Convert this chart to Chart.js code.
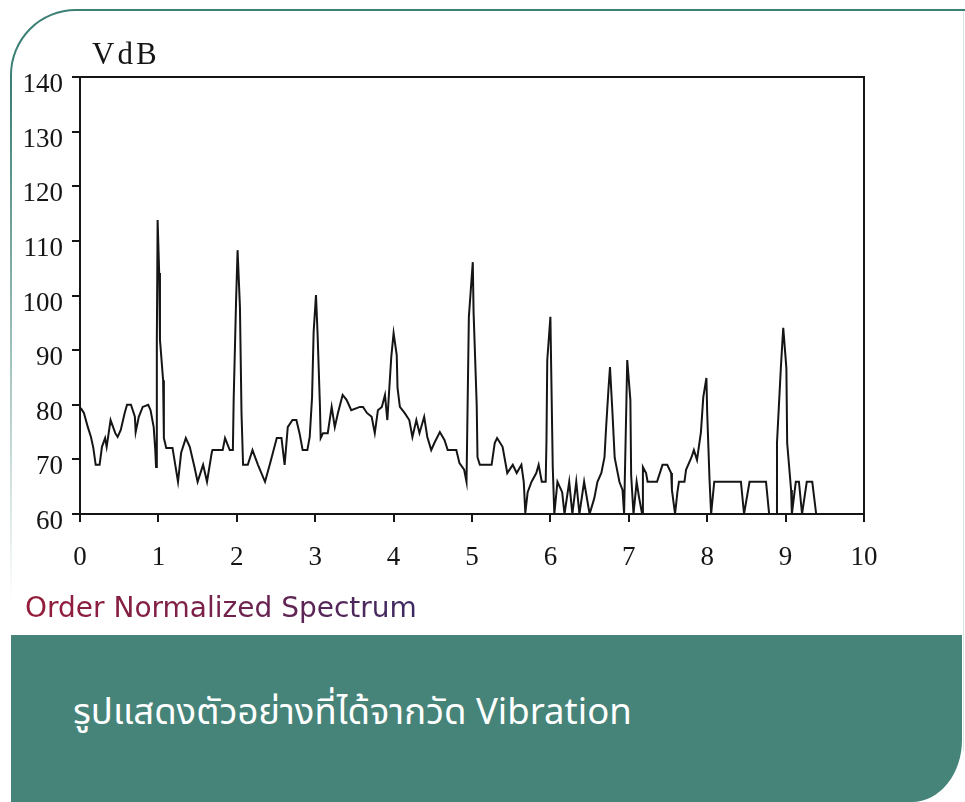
<!DOCTYPE html>
<html>
<head>
<meta charset="utf-8">
<script src="https://cdn.jsdelivr.net/npm/chart.js@4.4.1/dist/chart.umd.min.js"></script>
<style>
  html, body { margin: 0; padding: 0; background: #fff; }
  body { width: 965px; height: 802px; position: relative; overflow: hidden; }
  .frame {
    position: absolute; left: 10px; top: 9px; width: 955px; height: 793px;
    border-top-left-radius: 66px;
    background: linear-gradient(180deg, #3c7f74 0%, #3c7f74 10%, rgba(60,127,116,0) 75%);
  }
  .frame-inner {
    position: absolute; left: 12px; top: 11px; width: 953px; height: 791px;
    border-top-left-radius: 64px; background: #fff;
  }
  .edge { position: absolute; left: 963px; top: 11px; width: 1px; height: 740px; background: #dbe7e4; }
  #chart { position: absolute; left: 0; top: 0; }
  .caption {
    position: absolute; left: 25px; top: 590px;
    font-family: "DejaVu Sans", Verdana, sans-serif; font-size: 28px; line-height: 36px;
    background: linear-gradient(90deg, #951c3a 0%, #7a2049 45%, #3b2a63 100%);
    -webkit-background-clip: text; background-clip: text; color: transparent;
  }
  .band {
    position: absolute; left: 11px; top: 635px; width: 951px; height: 167px;
    background: #46847a; border-bottom-right-radius: 50px 62px;
  }
  .band span {
    position: absolute; left: 62px; top: 50px; color: #fff;
    font-family: "Noto Sans Thai", "Noto Sans", "DejaVu Sans", sans-serif; font-size: 36.5px;
  }
</style>
</head>
<body>
<div class="frame"></div>
<div class="frame-inner"></div>
<div class="edge"></div>
<canvas id="chart" width="965" height="580"></canvas>
<div class="caption">Order Normalized Spectrum</div>
<div class="band"><span>รูปแสดงตัวอย่างที่ได้จากวัด Vibration</span></div>

<script>
// spectrum: order (x) and level in VdB (y)
const orders = [
  0.01, 0.05, 0.10, 0.14, 0.17, 0.20, 0.25, 0.28, 0.32, 0.34, 0.39, 0.45, 0.48, 0.52, 0.57, 0.60,
  0.65, 0.70, 0.71, 0.75, 0.80, 0.87, 0.90, 0.94, 0.96, 0.97, 0.98, 0.99, 1.01, 1.02, 1.06, 1.07,
  1.10, 1.18, 1.25, 1.29, 1.35, 1.40, 1.46, 1.50, 1.57, 1.62, 1.68, 1.69, 1.82, 1.85, 1.91, 1.95,
  1.96, 1.99, 2.01, 2.04, 2.06, 2.08, 2.14, 2.20, 2.27, 2.36, 2.42, 2.51, 2.57, 2.61, 2.65, 2.71,
  2.76, 2.80, 2.84, 2.90, 2.93, 2.96, 2.98, 3.01, 3.03, 3.06, 3.07, 3.10, 3.16, 3.21, 3.25, 3.29,
  3.35, 3.40, 3.46, 3.57, 3.61, 3.66, 3.72, 3.76, 3.80, 3.85, 3.89, 3.92, 3.97, 4.00, 4.04, 4.05,
  4.08, 4.14, 4.20, 4.24, 4.29, 4.33, 4.39, 4.43, 4.48, 4.52, 4.59, 4.65, 4.69, 4.80, 4.84, 4.90,
  4.93, 4.94, 4.96, 5.01, 5.02, 5.06, 5.07, 5.10, 5.25, 5.29, 5.32, 5.39, 5.45, 5.52, 5.57, 5.63,
  5.66, 5.68, 5.71, 5.76, 5.82, 5.85, 5.89, 5.94, 5.95, 5.96, 6.00, 6.01, 6.03, 6.05, 6.09, 6.15,
  6.18, 6.24, 6.28, 6.33, 6.37, 6.43, 6.50, 6.56, 6.60, 6.65, 6.69, 6.71, 6.74, 6.76, 6.79, 6.82,
  6.88, 6.92, 6.94, 6.97, 6.98, 7.02, 7.03, 7.06, 7.10, 7.13, 7.17, 7.18, 7.22, 7.24, 7.36, 7.43,
  7.49, 7.54, 7.55, 7.59, 7.62, 7.64, 7.71, 7.73, 7.80, 7.83, 7.87, 7.92, 7.95, 7.99, 8.00, 8.03,
  8.05, 8.09, 8.43, 8.47, 8.54, 8.75, 8.79, 8.88, 8.89, 8.94, 8.97, 9.01, 9.02, 9.07, 9.08, 9.13,
  9.17, 9.21, 9.27, 9.34, 9.39
];
const vdb = [
  79.4, 78.5, 75.9, 74.1, 72.1, 69.0, 69.0, 72.3, 73.9, 72.3, 77.2, 74.8, 74.1, 75.4, 78.5, 80.0,
  80.0, 77.8, 75.0, 77.8, 79.6, 80.0, 79.0, 75.9, 71.7, 68.6, 91.5, 113.8, 104.1, 91.9, 84.5, 73.9,
  72.1, 72.1, 65.9, 71.2, 73.9, 72.3, 68.6, 65.9, 69.0, 65.9, 71.2, 71.7, 71.7, 73.9, 71.7, 71.7,
  80.9, 98.6, 108.3, 97.9, 78.5, 69.0, 69.0, 71.7, 69.0, 65.9, 69.0, 73.9, 73.9, 69.0, 75.9, 77.2,
  77.2, 74.8, 71.7, 71.7, 74.1, 81.4, 93.3, 100.1, 93.1, 80.0, 73.9, 74.8, 74.8, 79.6, 75.9, 78.5,
  81.8, 80.9, 79.0, 79.6, 79.6, 78.5, 77.8, 74.8, 79.0, 79.6, 81.8, 77.2, 88.7, 93.1, 89.1, 83.1,
  79.6, 78.5, 77.2, 74.1, 77.2, 74.8, 77.8, 74.1, 71.7, 73.0, 75.0, 73.5, 71.7, 71.7, 69.3, 68.1,
  65.9, 75.9, 96.1, 106.1, 97.0, 80.0, 70.4, 69.0, 69.0, 73.0, 73.9, 72.3, 67.5, 69.0, 67.5, 69.0,
  65.9, 60.2, 64.0, 65.9, 67.5, 69.0, 65.9, 65.9, 73.5, 88.2, 96.1, 86.7, 68.6, 60.0, 65.9, 64.0,
  60.0, 65.9, 60.0, 65.9, 60.0, 65.9, 60.0, 62.9, 65.9, 67.5, 70.4, 75.7, 82.7, 86.9, 79.0, 70.3,
  65.9, 64.4, 60.0, 80.9, 88.2, 80.9, 67.1, 60.0, 65.9, 63.1, 60.0, 68.6, 67.5, 65.9, 65.9, 69.0,
  69.0, 67.5, 64.4, 60.0, 64.0, 65.9, 65.9, 68.1, 70.4, 71.7, 69.9, 75.0, 81.4, 84.9, 78.5, 66.2,
  60.0, 65.9, 65.9, 60.0, 65.9, 65.9, 60.0, 60.0, 73.0, 86.9, 94.1, 86.7, 73.0, 64.4, 60.0, 65.9,
  65.9, 60.0, 65.9, 65.9, 60.0
];

const points = orders.map((o, i) => ({ x: o, y: vdb[i] }));

const ink = "#151515";
const tickFont = { family: "'Liberation Serif', 'Times New Roman', serif", size: 27 };

// closes the plot box and writes the unit label above it
const boxPlugin = {
  id: "box",
  afterDraw(chart) {
    const { ctx, chartArea } = chart;
    ctx.save();
    ctx.strokeStyle = ink;
    ctx.lineWidth = 2;
    ctx.beginPath();
    ctx.moveTo(chartArea.left, chartArea.top);
    ctx.lineTo(chartArea.right, chartArea.top);
    ctx.lineTo(chartArea.right, chartArea.bottom);
    ctx.stroke();
    ctx.fillStyle = ink;
    ctx.font = "31px 'Liberation Serif', 'Times New Roman', serif";
    ctx.letterSpacing = "3px";
    ctx.textBaseline = "alphabetic";
    ctx.fillText("VdB", 92, 64);
    ctx.restore();
  },
};

new Chart(document.getElementById("chart"), {
  type: "line",
  data: {
    datasets: [{
      data: points,
      borderColor: ink,
      borderWidth: 2,
      pointRadius: 0,
      tension: 0,
      fill: false,
    }],
  },
  options: {
    responsive: false,
    animation: false,
    devicePixelRatio: 1,
    layout: { padding: { left: 0, right: 101, top: 77, bottom: 0 } },
    plugins: { legend: { display: false }, tooltip: { enabled: false } },
    scales: {
      x: {
        type: "linear",
        min: 0,
        max: 10,
        grid: { drawOnChartArea: false, color: ink, lineWidth: 2, tickLength: 8 },
        border: { color: ink, width: 2 },
        ticks: { stepSize: 1, color: ink, font: tickFont, padding: 20, maxRotation: 0 },
        afterFit(scale) { scale.height = 66; scale.paddingLeft = 0; scale.paddingRight = 0; },
      },
      y: {
        min: 60,
        max: 140,
        grid: { drawOnChartArea: false, color: ink, lineWidth: 2, tickLength: 8 },
        border: { color: ink, width: 2 },
        ticks: { stepSize: 10, color: ink, font: tickFont, padding: 9, labelOffset: 8 },
        afterFit(scale) { scale.width = 80; scale.paddingTop = 0; scale.paddingBottom = 0; },
      },
    },
  },
  plugins: [boxPlugin],
});
</script>
</body>
</html>
